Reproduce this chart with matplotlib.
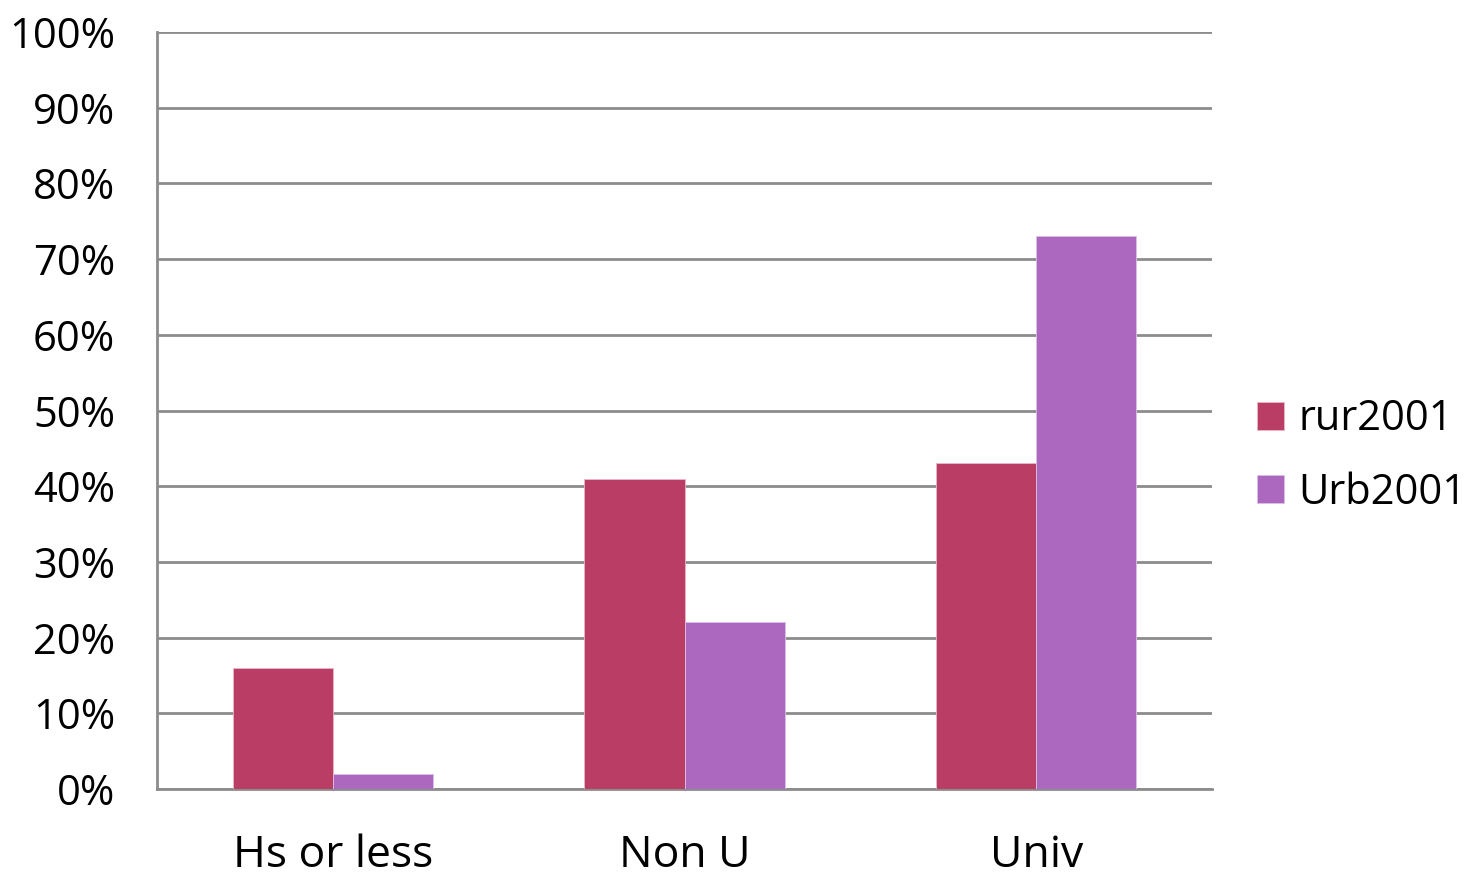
import matplotlib.pyplot as plt
import numpy as np

categories = ["Hs or less", "Non U", "Univ"]
rur2001 = [16, 41, 43]
urb2001 = [2, 22, 73]
yticks = list(range(0, 101, 10))

plt.rcParams['font.family'] = ['Open Sans', 'DejaVu Sans']

fig = plt.figure(figsize=(14.74, 8.84), dpi=100)
ax = fig.add_axes([157 / 1474, 1 - 789 / 884, (1212 - 157) / 1474, (789 - 32) / 884])

x = np.arange(len(categories))
w = 0.285
ax.bar(x - w / 2, rur2001, w, color='#b93d65', edgecolor='#e8b8c8', linewidth=0.6, label='rur2001', zorder=3)
ax.bar(x + w / 2, urb2001, w, color='#ac67be', edgecolor='#dcc0e6', linewidth=0.6, label='Urb2001', zorder=3)

ax.set_xlim(-0.5, len(categories) - 0.5)
ax.set_ylim(0, 100)
ax.set_yticks(yticks)
ax.set_yticklabels([f"{t}%" for t in yticks], fontsize=30)
ax.set_xticks(x)
ax.set_xticklabels(categories, fontsize=32)
ax.tick_params(axis='both', length=0)
ax.tick_params(axis='y', pad=30)
ax.tick_params(axis='x', pad=32)

ax.grid(axis='y', color='#8c8c8c', linewidth=2, zorder=0)
for s in ['top', 'right']:
    ax.spines[s].set_visible(False)
for s in ['left', 'bottom']:
    ax.spines[s].set_color('#8c8c8c')
    ax.spines[s].set_linewidth(2)

# legend sits to the right of the plot, a little below centre
leg = ax.legend(loc='center left', bbox_to_anchor=(1.007, 0.44), frameon=False,
                fontsize=30, handlelength=0.65, handleheight=0.65, handletextpad=0.35,
                labelspacing=0.75)

fig.savefig('out.png', dpi=100)
